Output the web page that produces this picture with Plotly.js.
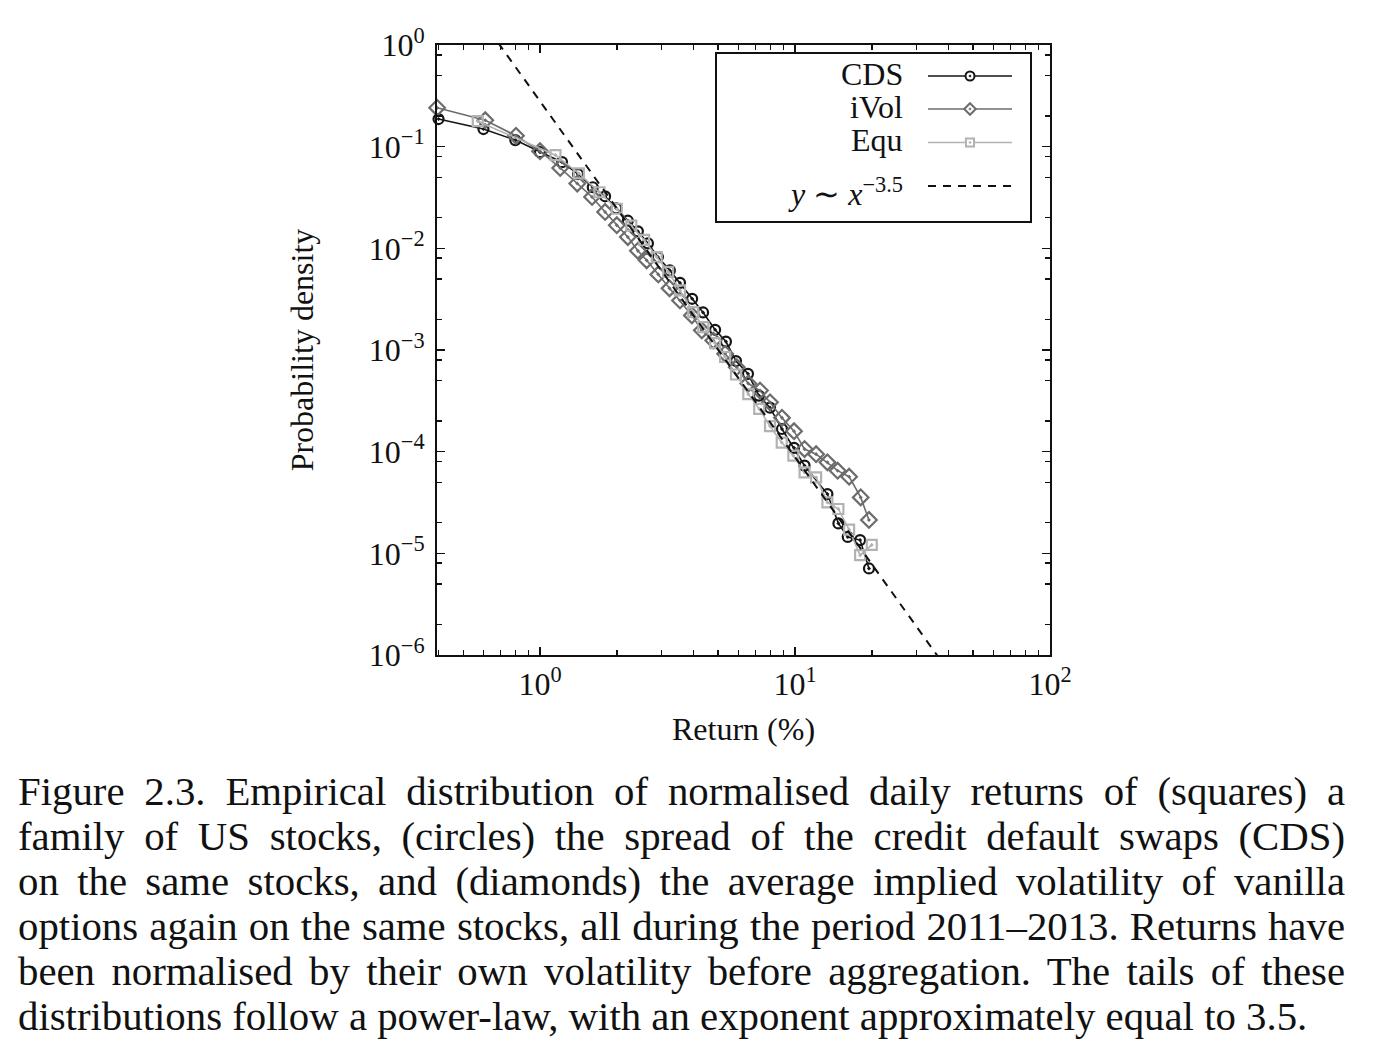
<!DOCTYPE html>
<html>
<head>
<meta charset="utf-8">
<script src="https://cdn.plot.ly/plotly-3.0.1.min.js"></script>
<style>
  html, body { margin: 0; padding: 0; background: #ffffff; }
  #chart { position: absolute; left: 0; top: 0; width: 1400px; height: 760px; }
  #caption {
    position: absolute; left: 18px; top: 769px; width: 1327px;
    font-family: "Liberation Serif", "Times New Roman", serif;
    font-size: 40.8px; line-height: 45px; color: #111;
  }
  #caption span { display: block; text-align: justify; text-align-last: justify; white-space: nowrap; }
  #caption span.last { text-align-last: left; }
</style>
</head>
<body>
<div id="chart"></div>
<div id="caption">
<span>Figure 2.3. Empirical distribution of normalised daily returns of (squares) a</span>
<span>family of US stocks, (circles) the spread of the credit default swaps (CDS)</span>
<span>on the same stocks, and (diamonds) the average implied volatility of vanilla</span>
<span>options again on the same stocks, all during the period 2011–2013. Returns have</span>
<span>been normalised by their own volatility before aggregation. The tails of these</span>
<span class="last">distributions follow a power-law, with an exponent approximately equal to 3.5.</span>
</div>
<script>
// ---- Data ----
const seriesNames = ['CDS', 'iVol', 'Equ'];

const cdsX = [0.40, 0.60, 0.80, 1.00, 1.22, 1.41, 1.61, 1.80, 1.99, 2.21, 2.42, 2.65, 2.90, 3.23, 3.54, 3.95, 4.36, 4.86, 5.36, 5.87, 6.54, 7.22, 7.98, 8.89, 9.91, 10.9, 13.4, 14.8, 16.1, 18.0, 19.5];
const cdsY = [0.187, 0.149, 0.116, 0.0883, 0.0704, 0.0536, 0.0399, 0.0325, 0.0248, 0.0187, 0.0147, 0.0112, 0.00821, 0.00607, 0.00457, 0.00319, 0.00234, 0.00158, 0.00121, 0.000779, 0.000583, 0.000356, 0.000271, 0.000167, 0.000109, 7.28e-5, 3.83e-5, 1.97e-5, 1.45e-5, 1.35e-5, 7.1e-6];

const ivolX = [0.395, 0.61, 0.805, 1.0, 1.2, 1.4, 1.6, 1.8, 2.0, 2.21, 2.42, 2.62, 2.91, 3.22, 3.54, 3.94, 4.31, 4.78, 5.32, 5.91, 6.56, 7.29, 7.98, 8.89, 9.91, 10.9, 12.1, 13.4, 14.7, 16.3, 18.1, 19.5];
const ivolY = [0.241, 0.182, 0.128, 0.0903, 0.0618, 0.0434, 0.0320, 0.0228, 0.0169, 0.0129, 0.00945, 0.00762, 0.00554, 0.00404, 0.00307, 0.00219, 0.00156, 0.00124, 0.000918, 0.000677, 0.000468, 0.000399, 0.000306, 0.000215, 0.000159, 0.000106, 9.45e-5, 7.85e-5, 6.5e-5, 5.67e-5, 3.55e-5, 2.13e-5];

const equX = [0.57, 1.15, 1.42, 1.71, 2.0, 2.28, 2.56, 2.87, 3.18, 3.54, 3.99, 4.37, 4.86, 5.32, 5.87, 6.56, 7.24, 7.98, 8.87, 9.85, 10.9, 12.1, 13.4, 14.8, 16.3, 18.0, 20.0];
const equY = [0.178, 0.0825, 0.0545, 0.0356, 0.0245, 0.0167, 0.0121, 0.00821, 0.00587, 0.00386, 0.00236, 0.00168, 0.00117, 0.000853, 0.000574, 0.000368, 0.000263, 0.000178, 0.000123, 9.13e-5, 6.25e-5, 5.58e-5, 3.17e-5, 2.73e-5, 1.71e-5, 9.6e-6, 1.21e-5];

// Reference power law y ~ C * x^-3.5
const powerLawExponent = -3.5;
const powerLawPrefactor = 0.28;
const powerLawX = [0.5, 45];
const powerLawName = '<i>y</i> \u223C <i>x</i><sup>\u22123.5</sup>';

// Tick labels
const xTickVals = [1, 10, 100];
const xTickText = ['10<sup>0</sup>', '10<sup>1</sup>', '10<sup>2</sup>'];
const yTickVals = [1, 1e-1, 1e-2, 1e-3, 1e-4, 1e-5, 1e-6];
const yTickText = ['10<sup>0</sup>', '10<sup>\u22121</sup>', '10<sup>\u22122</sup>', '10<sup>\u22123</sup>', '10<sup>\u22124</sup>', '10<sup>\u22125</sup>', '10<sup>\u22126</sup>'];

// ---- Styles ----
const FONT = '"Liberation Serif", "Times New Roman", Times, serif';
const INK = '#111111';
const seriesColors = ['#151515', '#6c6c6c', '#b2b2b2'];
const seriesSymbols = ['circle-open-dot', 'diamond-open-dot', 'square-open-dot'];
const seriesSizes = [10, 12, 10];

// ---- Build figure ----
const powerLawY = powerLawX.map(x => powerLawPrefactor * Math.pow(x, powerLawExponent));

const xMinor = [];
[0.1, 1, 10].forEach(d => { for (let k = 2; k <= 9; k++) xMinor.push(k * d); });
const yMinor = [];
[1e-6, 1e-5, 1e-4, 1e-3, 1e-2, 1e-1].forEach(d => { [2, 5, 8].forEach(k => yMinor.push(k * d)); });

const seriesX = [cdsX, ivolX, equX];
const seriesY = [cdsY, ivolY, equY];

const traces = seriesNames.map((name, i) => ({
  x: seriesX[i], y: seriesY[i], name: name, type: 'scatter', mode: 'lines+markers', cliponaxis: false,
  line: { color: seriesColors[i], width: 1.6 },
  marker: { symbol: seriesSymbols[i], size: seriesSizes[i], color: seriesColors[i], line: { width: 2.2, color: seriesColors[i] } }
}));
traces.push({
  x: powerLawX, y: powerLawY, name: powerLawName, type: 'scatter', mode: 'lines',
  line: { color: INK, width: 2, dash: '8px,7px' }
});

// ---- Legend box (text on the left, key on the right, as in the reference) ----
const PLOT = { l: 437, t: 45, w: 613, h: 610 };
const px = v => (v - PLOT.l) / PLOT.w;           // page px -> paper x
const py = v => (PLOT.t + PLOT.h - v) / PLOT.h;   // page px -> paper y

const legendBox = { x0: 716, x1: 1031, y0: 53, y1: 222 };
const legendTextRight = 905;
const legendKey = { x0: 928, x1: 1012, xc: 970 };
const legendRowsText = [74, 107.5, 140, 192];
const legendRowsKey = [76, 109, 142.5, 186];

const shapes = [];
const annotations = [];
shapes.push({ type: 'rect', xref: 'paper', yref: 'paper', layer: 'above',
  x0: px(legendBox.x0), x1: px(legendBox.x1), y0: py(legendBox.y1), y1: py(legendBox.y0),
  line: { color: INK, width: 2 }, fillcolor: 'rgba(255,255,255,1)' });

const legendLabels = seriesNames.concat([powerLawName]);
legendLabels.forEach((label, i) => {
  annotations.push({ xref: 'paper', yref: 'paper', x: px(legendTextRight), y: py(legendRowsText[i]),
    xanchor: 'right', yanchor: 'middle', showarrow: false, text: label,
    font: { family: FONT, size: 32, color: INK } });
  const ky = legendRowsKey[i];
  const isSeries = i < seriesNames.length;
  const col = isSeries ? seriesColors[i] : INK;
  shapes.push({ type: 'line', xref: 'paper', yref: 'paper', layer: 'above',
    x0: px(legendKey.x0), x1: px(legendKey.x1), y0: py(ky), y1: py(ky),
    line: isSeries ? { color: col, width: 1.6 } : { color: INK, width: 2, dash: '8px,7px' } });
  if (!isSeries) return;
  const c = legendKey.xc;
  const r = seriesSizes[i] / 2 - 0.5;
  const common = { xref: 'paper', yref: 'paper', layer: 'above', line: { color: col, width: 2 }, fillcolor: '#ffffff' };
  if (seriesSymbols[i].startsWith('circle')) {
    shapes.push(Object.assign({ type: 'circle', x0: px(c - r), x1: px(c + r), y0: py(ky + r), y1: py(ky - r) }, common));
  } else if (seriesSymbols[i].startsWith('diamond')) {
    const d = r * 1.05;
    shapes.push(Object.assign({ type: 'path',
      path: `M ${px(c)} ${py(ky - d)} L ${px(c + d)} ${py(ky)} L ${px(c)} ${py(ky + d)} L ${px(c - d)} ${py(ky)} Z` }, common));
  } else {
    const s = r * 0.9;
    shapes.push(Object.assign({ type: 'rect', x0: px(c - s), x1: px(c + s), y0: py(ky + s), y1: py(ky - s) }, common));
  }
  shapes.push({ type: 'circle', xref: 'paper', yref: 'paper', layer: 'above',
    x0: px(c - 0.9), x1: px(c + 0.9), y0: py(ky + 0.9), y1: py(ky - 0.9),
    line: { color: col, width: 0.8 }, fillcolor: col });
});

const axisCommon = {
  type: 'log', showgrid: false, zeroline: false,
  showline: true, linecolor: INK, linewidth: 2, mirror: 'allticks',
  ticks: 'inside', ticklen: 8, tickwidth: 1.5, tickcolor: INK,
  tickmode: 'array',
  tickfont: { family: FONT, size: 32, color: INK }
};

const layout = {
  width: 1400, height: 760,
  margin: { l: 437, r: 350, t: 45, b: 105 },
  paper_bgcolor: '#ffffff', plot_bgcolor: '#ffffff',
  font: { family: FONT, size: 32, color: INK },
  showlegend: false,
  shapes: shapes,
  annotations: annotations,
  xaxis: Object.assign({}, axisCommon, {
    range: [Math.log10(0.3945), 2],
    tickvals: xTickVals, ticktext: xTickText,
    minor: { tickmode: 'array', tickvals: xMinor, ticks: 'inside', ticklen: 5, tickwidth: 1.5, tickcolor: INK, showgrid: false },
    title: { text: 'Return (%)', font: { family: FONT, size: 32, color: INK }, standoff: 16 }
  }),
  yaxis: Object.assign({}, axisCommon, {
    range: [-6, 0],
    tickvals: yTickVals, ticktext: yTickText,
    ticklabelstandoff: 4,
    minor: { tickmode: 'array', tickvals: yMinor, ticks: 'inside', ticklen: 5, tickwidth: 1.5, tickcolor: INK, showgrid: false },
    title: { text: 'Probability density', font: { family: FONT, size: 32, color: INK }, standoff: 46 }
  })
};

Plotly.newPlot('chart', traces, layout, { displayModeBar: false, staticPlot: true });
</script>
</body>
</html>
